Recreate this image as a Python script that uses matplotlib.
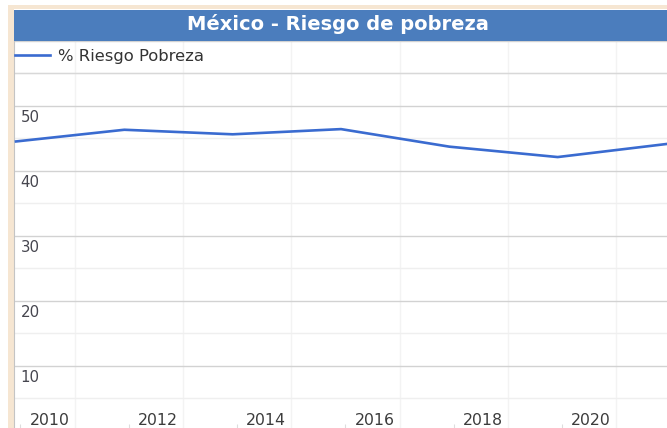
import matplotlib.pyplot as plt
import matplotlib.transforms as mtransforms
from matplotlib.patches import Rectangle

# Data (CONEVAL-style biennial values)
years = [2008, 2010, 2012, 2014, 2016, 2018, 2020]
riesgo = [44.5, 46.3, 45.6, 46.4, 43.7, 42.1, 44.1]

tick_years = [2008, 2010, 2012, 2014, 2016, 2018]
tick_labels = ['2010', '2012', '2014', '2016', '2018', '2020']
y_labels = [10, 20, 30, 40, 50]

title = 'México - Riesgo de pobreza'
serie = '% Riesgo Pobreza'

plt.rcParams['font.family'] = ['DejaVu Sans']

W, H = 667, 428
fig = plt.figure(figsize=(W / 100, H / 100), dpi=100)
fig.patch.set_facecolor('white')

# beige frame (top and left)
fig.add_artist(Rectangle((8 / W, 0), 6 / W, 1 - 5 / H, transform=fig.transFigure,
                         facecolor='#f6e6d2', edgecolor='none', zorder=0))
fig.add_artist(Rectangle((8 / W, 1 - 9 / H), 1, 4 / H, transform=fig.transFigure,
                         facecolor='#f6e6d2', edgecolor='none', zorder=0))

# plot area
top_px = 40.7
ax = fig.add_axes([14 / W, 0, 1 - 14 / W, (H - top_px) / H])
ax.set_xlim(2007.963, 2020.018)
ax.set_ylim(0.42, 60)

off = 0.08  # ticks/grid sit a bit right of the data points
ax.set_xticks([t + off for t in tick_years])
ax.set_xticks([t + 1 + off for t in tick_years], minor=True)
ax.set_yticks(range(10, 61, 10))
ax.set_yticks(range(5, 60, 10), minor=True)
ax.set_xticklabels([])
ax.set_yticklabels([])
ax.tick_params(axis='x', which='major', direction='in', length=3, color='#dddddd')
ax.tick_params(axis='x', which='minor', length=0)
ax.tick_params(axis='y', which='both', length=0)
ax.grid(axis='y', which='major', color='#d2d2d2', linewidth=1)
ax.grid(axis='y', which='minor', color='#efefef', linewidth=1)
ax.grid(axis='x', which='minor', color='#f3f3f3', linewidth=1)
ax.set_axisbelow(True)

for s in ['top', 'right', 'bottom']:
    ax.spines[s].set_visible(False)
ax.spines['left'].set_color('#c4c4c4')

# legend row border
ax.axhline(55, color='#d8d8d8', linewidth=1, zorder=1)

ax.plot(years, riesgo, color='#3a6bd0', linewidth=1.9, label=serie,
        solid_joinstyle='round', zorder=3)

# y labels inside the plot, under their grid line
for v in y_labels:
    tr = mtransforms.offset_copy(
        mtransforms.blended_transform_factory(ax.transAxes, ax.transData),
        fig=fig, x=6.5, y=-16.5, units='dots')
    ax.text(0, v, str(v), transform=tr, ha='left', va='baseline',
            fontsize=10.8, color='#46464f')

# x labels, shifted right of their ticks
for t, lab in zip(tick_years, tick_labels):
    tr = mtransforms.offset_copy(
        mtransforms.blended_transform_factory(ax.transData, ax.transAxes),
        fig=fig, x=9.3, y=3, units='dots')
    ax.text(t + off, 0, lab, transform=tr, ha='left', va='baseline',
            fontsize=11.3, color='#3c3c3c')

leg = ax.legend(loc='center left', bbox_to_anchor=(0.002, (H - 56.4) / (H - top_px)),
                frameon=False, borderpad=0, borderaxespad=0, handlelength=2.1,
                handletextpad=0.5, fontsize=11.8)
for t in leg.get_texts():
    t.set_color('#333333')

# title bar
fig.add_artist(Rectangle((14 / W, 1 - top_px / H), 1, (top_px - 10) / H,
                         transform=fig.transFigure, facecolor='#4b7dbd',
                         edgecolor='none', zorder=5))
fig.text(338.3 / W, 1 - 30 / H, title, ha='center', va='baseline', color='white',
         fontsize=14, fontweight='bold', zorder=6)

fig.savefig('out.png', dpi=100)
